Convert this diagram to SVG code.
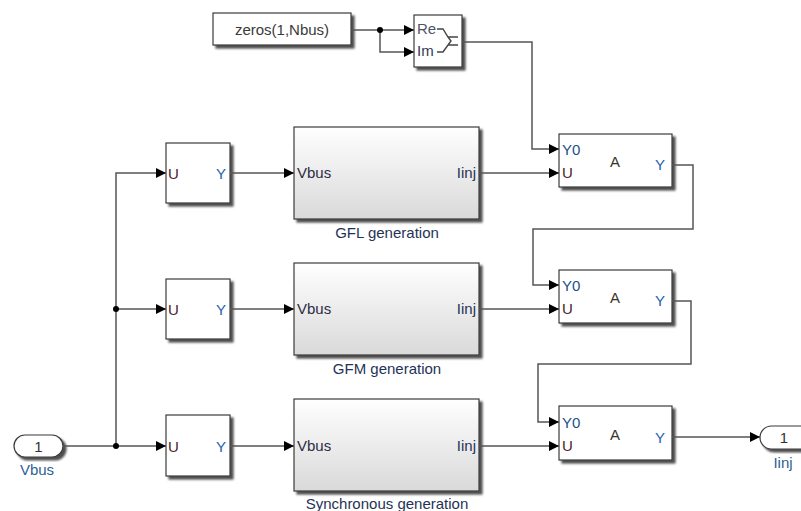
<svg xmlns="http://www.w3.org/2000/svg" width="801" height="511" viewBox="0 0 801 511">
<defs>
<filter id="sh" x="-10%" y="-10%" width="130%" height="130%">
<feGaussianBlur in="SourceAlpha" stdDeviation="1.2"/>
<feOffset dx="2.5" dy="2.5" result="o"/>
<feComponentTransfer><feFuncA type="linear" slope="0.7"/></feComponentTransfer>
<feMerge><feMergeNode/><feMergeNode in="SourceGraphic"/></feMerge>
</filter>
<linearGradient id="sub" x1="0" y1="0" x2="0" y2="1">
<stop offset="0" stop-color="#ffffff"/>
<stop offset="1" stop-color="#d9d9d9"/>
</linearGradient>
<marker id="ar" viewBox="0 0 10 10" refX="10" refY="5" markerWidth="10" markerHeight="10" markerUnits="userSpaceOnUse" orient="auto">
<path d="M0,0 L10,5 L0,10 Z" fill="#000"/>
</marker>
</defs>
<style>
.blk{fill:#fff;stroke:#3a3a3a;stroke-width:1.2;filter:url(#sh)}
.sub{fill:url(#sub);stroke:#3a3a3a;stroke-width:1.2;filter:url(#sh)}
.w{fill:none;stroke:#555;stroke-width:1.5}
.wa{fill:none;stroke:#555;stroke-width:1.5;marker-end:url(#ar)}
.t{font-family:"Liberation Sans",Arial,sans-serif;font-size:15px}
.pu{fill:#4e2230}
.py{fill:#1f62ad}
.pv{fill:#2c2c44}
.pl{fill:#1f3358}
.dot{fill:#000}
</style>
<rect width="801" height="511" fill="#fff"/>

<g id="zeros">
<rect class="blk" x="213" y="13" width="138" height="32"/>
<text class="t" x="282" y="35" text-anchor="middle" fill="#3a3a3a" font-size="16.5">zeros(1,Nbus)</text>
</g>
<g id="realimag">
<rect class="blk" x="414" y="15" width="48" height="52"/>
<text class="t" x="417" y="34" font-size="11.5" fill="#4f5468">Re</text>
<text class="t" x="417" y="56" font-size="11.5" fill="#353a55">Im</text>
<path d="M437,29 H443 L448,37 H458 M437,52 H443 L448,45 H458 M448,37 L451,41 L448,45" fill="none" stroke="#444" stroke-width="1.4"/>
</g>

<g id="sel1">
<rect class="blk" x="166" y="143" width="64" height="60"/>
<text class="t pu" x="168" y="179" font-size="16">U</text>
<text class="t py" x="226" y="179" font-size="16" text-anchor="end">Y</text>
</g>
<g id="sel2">
<rect class="blk" x="166" y="279" width="64" height="60"/>
<text class="t pu" x="168" y="315" font-size="16">U</text>
<text class="t py" x="226" y="315" font-size="16" text-anchor="end">Y</text>
</g>
<g id="sel3">
<rect class="blk" x="166" y="415" width="64" height="61"/>
<text class="t pu" x="168" y="452" font-size="16">U</text>
<text class="t py" x="226" y="452" font-size="16" text-anchor="end">Y</text>
</g>

<g id="gfl">
<rect class="sub" x="294" y="127" width="185" height="92"/>
<text class="t pv" x="297" y="178" font-size="14.5">Vbus</text>
<text class="t pl" x="476" y="178" font-size="14.5" text-anchor="end">Iinj</text>
<text class="t pl" x="387" y="238" font-size="15.5" text-anchor="middle">GFL generation</text>
</g>
<g id="gfm">
<rect class="sub" x="294" y="263" width="185" height="92"/>
<text class="t pv" x="297" y="314" font-size="14.5">Vbus</text>
<text class="t pl" x="476" y="314" font-size="14.5" text-anchor="end">Iinj</text>
<text class="t pl" x="387" y="374" font-size="15.5" text-anchor="middle">GFM generation</text>
</g>
<g id="sync">
<rect class="sub" x="294" y="399" width="185" height="92"/>
<text class="t pv" x="297" y="451" font-size="14.5">Vbus</text>
<text class="t pl" x="476" y="451" font-size="14.5" text-anchor="end">Iinj</text>
<text class="t pl" x="387" y="509" font-size="15.5" text-anchor="middle">Synchronous generation</text>
</g>

<g id="assign1">
<rect class="blk" x="559" y="134" width="113" height="53"/>
<text class="t" x="562" y="155" font-size="16" fill="#1d4f86">Y0</text>
<text class="t pu" x="562" y="178" font-size="16">U</text>
<text class="t" x="615" y="167" font-size="16" text-anchor="middle" fill="#3a352c">A</text>
<text class="t py" x="660" y="170" font-size="16" text-anchor="middle">Y</text>
</g>
<g id="assign2">
<rect class="blk" x="559" y="270" width="113" height="53"/>
<text class="t" x="562" y="291" font-size="16" fill="#1d4f86">Y0</text>
<text class="t pu" x="562" y="314" font-size="16">U</text>
<text class="t" x="615" y="303" font-size="16" text-anchor="middle" fill="#3a352c">A</text>
<text class="t py" x="660" y="306" font-size="16" text-anchor="middle">Y</text>
</g>
<g id="assign3">
<rect class="blk" x="559" y="406" width="113" height="54"/>
<text class="t" x="562" y="428" font-size="16" fill="#1d4f86">Y0</text>
<text class="t pu" x="562" y="451" font-size="16">U</text>
<text class="t" x="615" y="440" font-size="16" text-anchor="middle" fill="#3a352c">A</text>
<text class="t py" x="660" y="443" font-size="16" text-anchor="middle">Y</text>
</g>

<g id="inport">
<rect class="blk" x="14" y="435" width="49" height="22" rx="11" ry="11"/>
<text class="t" x="38.5" y="451.5" text-anchor="middle" fill="#333" font-size="14">1</text>
<text class="t" x="37" y="475" text-anchor="middle" fill="#2f5f96">Vbus</text>
</g>
<g id="outport">
<rect class="blk" x="760" y="426" width="56" height="23" rx="11.5" ry="11.5"/>
<text class="t" x="784" y="442.5" text-anchor="middle" fill="#333" font-size="14">1</text>
<text class="t" x="783" y="468" text-anchor="middle" fill="#2f5f96">Iinj</text>
</g>

<g id="connectors">
<path class="w" d="M351,30 H380"/>
<path class="wa" d="M380,30 H414"/>
<path class="wa" d="M380,30 V52 H414"/>
<path class="wa" d="M462,42 H532 V149 H559"/>
<path class="w" d="M63,446 H116"/>
<path class="wa" d="M116,446 H166"/>
<path class="wa" d="M116,446 V173 H166"/>
<path class="wa" d="M116,309 H166"/>
<path class="wa" d="M230,173 H294"/>
<path class="wa" d="M230,309 H294"/>
<path class="wa" d="M230,446 H294"/>
<path class="wa" d="M479,173 H559"/>
<path class="wa" d="M479,309 H559"/>
<path class="wa" d="M479,446 H559"/>
<path class="wa" d="M672,165 H693 V229 H533 V285 H559"/>
<path class="wa" d="M672,301 H691 V364 H538 V422 H559"/>
<path class="wa" d="M672,437 H760"/>
<circle class="dot" cx="380" cy="30" r="3"/>
<circle class="dot" cx="116" cy="446" r="3"/>
<circle class="dot" cx="116" cy="309" r="3"/>
</g>
</svg>
